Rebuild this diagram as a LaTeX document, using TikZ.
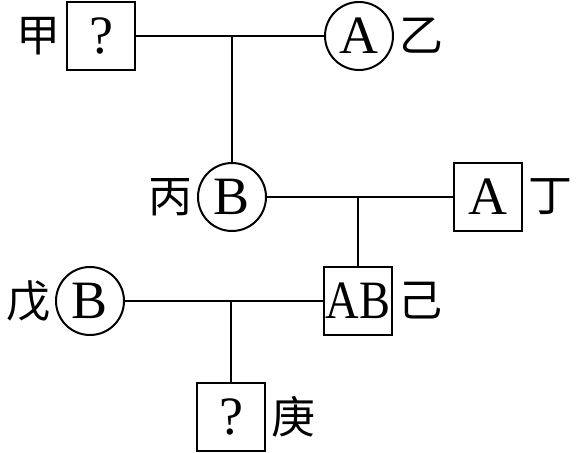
\documentclass[tikz,border=0pt]{standalone}
\usepackage{fontspec}
\setmainfont{Liberation Serif}
\newfontfamily\cjk{Noto Sans CJK SC}

\begin{document}
\begin{tikzpicture}[x=0.5pt, y=-0.5pt, line width=1pt,
    male/.style={draw, rectangle, minimum size=34pt, inner sep=0pt, font=\fontsize{27}{27}\selectfont},
    female/.style={draw, circle, minimum size=34pt, inner sep=0pt, font=\fontsize{27}{27}\selectfont},
    tag/.style={font=\cjk\fontsize{22}{22}\selectfont, inner sep=2pt}]
    \useasboundingbox (0,0) rectangle (581,453);
    \node[male, label={[tag]left:甲}] (jia) at (101,36) {?};
    \node[female, label={[tag]right:乙}] (yi) at (359,36) {A};
    \node[female, label={[tag]left:丙}] (bing) at (232,197) {B};
    \node[male, label={[tag]right:丁}] (ding) at (488,197) {A};
    \node[female, label={[tag]left:戊}] (wu) at (90,301) {B};
    \node[male, label={[tag]right:己}] (ji) at (358,301) {\scalebox{0.86}[1]{AB}};
    \node[male, label={[tag]right:庚}] (geng) at (231,417) {?};
    \draw (jia) -- (yi);
    \draw (jia -| bing) -- (bing);
    \draw (bing) -- (ding);
    \draw (bing -| ji) -- (ji);
    \draw (wu) -- (ji);
    \draw (wu -| geng) -- (geng);
\end{tikzpicture}
\end{document}
